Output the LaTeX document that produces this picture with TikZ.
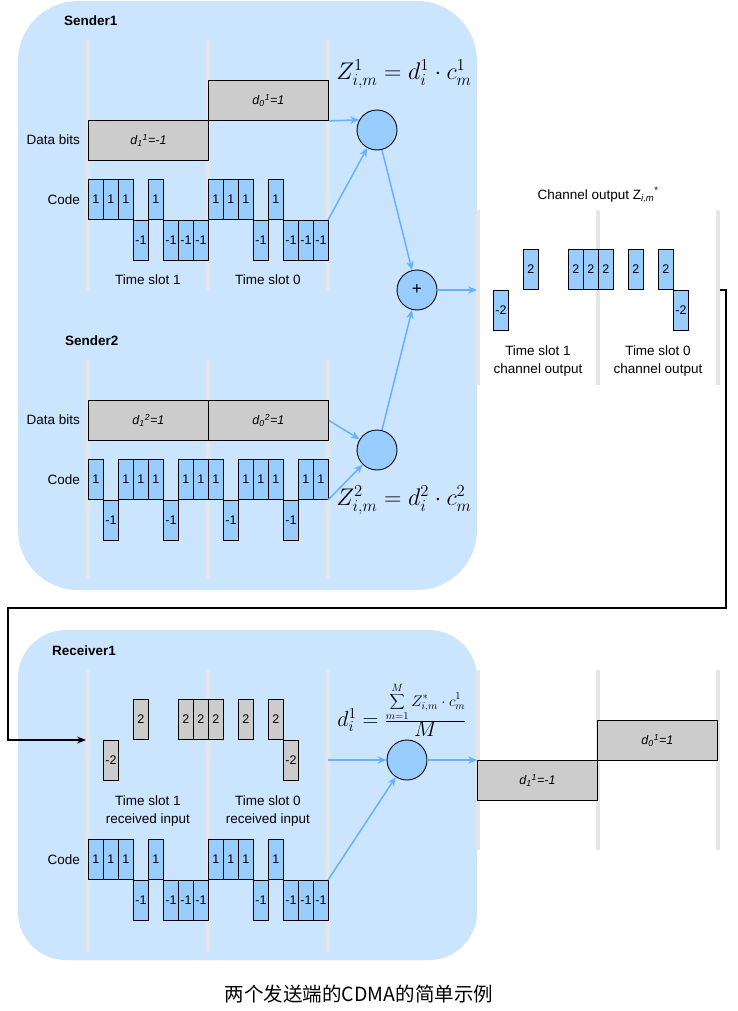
\documentclass[tikz,border=0pt]{standalone}
\usepackage[no-math]{fontspec}
\setmainfont{Liberation Sans}
\newfontfamily\cjkfont{Noto Sans CJK SC}
\usetikzlibrary{arrows.meta}
\definecolor{panelblue}{HTML}{CCE5FF}
\definecolor{chipblue}{HTML}{99CCFF}
\definecolor{bitgray}{HTML}{CCCCCC}
\definecolor{slotgray}{HTML}{E6E6E6}
\definecolor{arrowblue}{HTML}{66B2FF}
% #1 name prefix, #2 x start, #3 baseline y, #4 values, #5 style
\newcommand{\mkchips}[5]{%
  \foreach \v [count=\k from 0] in {#4} {%
    \pgfmathsetmacro{\xx}{#2+15*\k}%
    \ifnum\v>0 \node[#5,anchor=south west] (#1\k) at (\xx,#3) {\v};\fi
    \ifnum\v<0 \node[#5,anchor=north west] (#1\k) at (\xx,#3) {\v};\fi
  }}
\begin{document}
\begin{tikzpicture}[x=1pt,y=-1pt,
  panel/.style={fill=panelblue},
  slotline/.style={draw=slotgray,line width=4pt},
  chip/.style={draw=black,fill=chipblue,line width=0.9pt,minimum width=15pt,minimum height=40pt,inner sep=0pt,font=\fontsize{12.5}{14}\selectfont},
  gchip/.style={chip,fill=bitgray},
  bit/.style={draw=black,fill=bitgray,line width=0.9pt,minimum width=120pt,minimum height=40pt,inner sep=0pt,font=\fontsize{12.5}{14}\selectfont\itshape},
  lbl/.style={font=\fontsize{13.5}{18}\selectfont,inner sep=0pt,align=center},
  title/.style={font=\fontsize{13.5}{18}\selectfont\bfseries,inner sep=0pt,anchor=west},
  op/.style={circle,draw=black,fill=chipblue,line width=0.9pt,minimum size=40pt,inner sep=0pt},
  arr/.style={draw=arrowblue,line width=1.5pt,-{Stealth[length=9pt,width=7.5pt]}},
  blk/.style={draw=black,line width=1.3pt,-{Stealth[length=9pt,width=7pt]}},
  fml/.style={inner sep=0pt,font=\huge,scale=1.16}
]
\useasboundingbox (0,0) rectangle (737,1011);
\fill[white] (0,0) rectangle (737,1011);

% panels
\fill[panel,rounded corners=60pt] (18,1) rectangle (477,590);
\fill[panel,rounded corners=48pt] (18,630) rectangle (477,960);

% slot lines
\foreach \x in {88,208,328} {
  \draw[slotline] (\x,40) -- (\x,290);
  \draw[slotline] (\x,360) -- (\x,578);
  \draw[slotline] (\x,670) -- (\x,952);
}
\foreach \x in {478,598,718} {
  \draw[slotline] (\x,210) -- (\x,385);
  \draw[slotline] (\x,670) -- (\x,850);
}

% ---------------- Sender1
\node[title] (t1) at (64,21) {Sender1};
\node[lbl,anchor=east] (db1) at (80,140) {Data bits};
\node[lbl,anchor=east] (cd1) at (80,200) {Code};
\node[bit,anchor=north west] (s1d1) at (88,120) {d\textsubscript{1}\textsuperscript{1}=-1};
\node[bit,anchor=north west] (s1d0) at (208,80) {d\textsubscript{0}\textsuperscript{1}=1};
\mkchips{s1a}{88}{220}{1,1,1,-1,1,-1,-1,-1}{chip}
\mkchips{s1b}{208}{220}{1,1,1,-1,1,-1,-1,-1}{chip}
\coordinate (s1end) at (328,220);
\node[lbl] (ts1) at (148,280) {Time slot 1};
\node[lbl] (ts0) at (268,280) {Time slot 0};
\node[op] (c1) at (377,130) {};
\node[fml] (f1) at (404,74) {$Z^1_{i,m}=d^1_i\cdot c^1_m$};

% ---------------- Sender2
\node[title] (t2) at (65,341) {Sender2};
\node[lbl,anchor=east] (db2) at (80,420) {Data bits};
\node[lbl,anchor=east] (cd2) at (80,480) {Code};
\node[bit,anchor=north west] (s2d1) at (88,400) {d\textsubscript{1}\textsuperscript{2}=1};
\node[bit,anchor=north west] (s2d0) at (208,400) {d\textsubscript{0}\textsuperscript{2}=1};
\mkchips{s2a}{88}{500}{1,-1,1,1,1,-1,1,1}{chip}
\mkchips{s2b}{208}{500}{1,-1,1,1,1,-1,1,1}{chip}
\coordinate (s2end) at (328,500);
\node[op] (c2) at (377,450) {};
\node[fml] (f2) at (404,500) {$Z^2_{i,m}=d^2_i\cdot c^2_m$};

% ---------------- plus and channel
\node[op,font=\LARGE] (plus) at (417,290) {+};
\coordinate (chin) at (477,290);
\mkchips{cha}{478}{290}{0,-2,0,2,0,0,2,2}{chip}
\mkchips{chb}{598}{290}{2,0,2,0,2,-2,0,0}{chip}
\node[lbl] (chlbl) at (598,195) {Channel output Z\textsubscript{\itshape i,m}\textsuperscript{*}};
\node[lbl] (cts1) at (538,361) {Time slot 1\\channel output};
\node[lbl] (cts0) at (658,361) {Time slot 0\\channel output};
\coordinate (chout) at (720,290);

% ---------------- Receiver1
\node[title] (t3) at (52,651) {Receiver1};
\coordinate (rin) at (86,740);
\mkchips{ria}{88}{740}{0,-2,0,2,0,0,2,2}{gchip}
\mkchips{rib}{208}{740}{2,0,2,0,2,-2,0,0}{gchip}
\coordinate (riend) at (328,760);
\node[lbl] (rts1) at (148,811) {Time slot 1\\received input};
\node[lbl] (rts0) at (268,811) {Time slot 0\\received input};
\node[lbl,anchor=east] (cd3) at (80,860) {Code};
\mkchips{r1a}{88}{880}{1,1,1,-1,1,-1,-1,-1}{chip}
\mkchips{r1b}{208}{880}{1,1,1,-1,1,-1,-1,-1}{chip}
\coordinate (r1end) at (328,880);
\node[op] (c3) at (407,760) {};
\node[inner sep=0pt,font=\huge,scale=1.06] (f3) at (402,710)
  {$d^1_i=\frac{\mbox{\Large$\displaystyle\sum_{m=1}^{M} Z^*_{i,m}\cdot c^1_m$}}{\textstyle M}$};
\node[bit,anchor=north west] (o1) at (477,760) {d\textsubscript{1}\textsuperscript{1}=-1};
\node[bit,anchor=north west] (o0) at (597,720) {d\textsubscript{0}\textsuperscript{1}=1};

% ---------------- connectors
\draw[arr] (s1d0.south east) -- (c1.150);
\draw[arr] (s1end) -- (c1);
\draw[arr] (c1) -- (plus);
\draw[arr] (s2d0.east) -- (c2);
\draw[arr] (s2end) -- (c2);
\draw[arr] (c2) -- (plus);
\draw[arr] (plus.east) -- (chin);
\draw[blk] (chout) -- ++(6,0) |- (8,608) |- (rin);
\draw[arr] (riend) -- (c3.west);
\draw[arr] (c3.east) -- (o1.north west);
\draw[arr] (r1end) -- (c3);

% caption
\node[inner sep=0pt,font=\cjkfont\fontsize{19.5}{23}\selectfont] (cap) at (359,994) {两个发送端的CDMA的简单示例};
\end{tikzpicture}
\end{document}
